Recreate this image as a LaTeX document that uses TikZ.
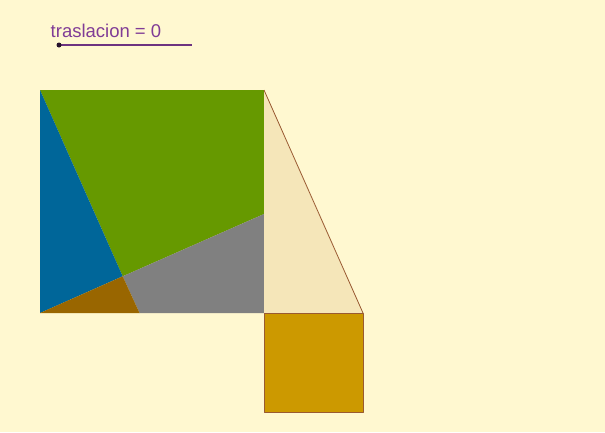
\documentclass[tikz,border=0pt]{standalone}
\usepackage{fontspec}
\setmainfont{Liberation Sans}
\definecolor{bg}{RGB}{255,248,208}
\definecolor{pblue}{RGB}{0,102,153}
\definecolor{pgreen}{RGB}{102,153,0}
\definecolor{pgray}{RGB}{128,128,128}
\definecolor{pbrown}{RGB}{153,102,0}
\definecolor{pbeige}{RGB}{245,230,185}
\definecolor{pgold}{RGB}{204,153,0}
\definecolor{edge}{RGB}{153,90,50}
\definecolor{slider}{RGB}{128,60,150}
\tikzset{
  piece/.style={line width=0.3pt, line join=round},
  outlined/.style={draw=edge, line width=1pt, line join=round},
}
\begin{document}
\begin{tikzpicture}[x=1pt,y=-1pt]
\fill[bg] (0,0) rectangle (605,432);
\useasboundingbox (0,0) rectangle (605,432);
% slider
\node[anchor=base west, inner sep=0pt, text=slider, font=\fontsize{18.5}{20}\selectfont] (lbl) at (50.5,37) {traslacion = 0};
\coordinate (s0) at (59,45);
\coordinate (s1) at (192,45);
\draw[slider!85!black, line width=2pt] (s0) -- (s1);
\fill[black!70!slider] (s0) circle (2.5);
% big square vertices
\coordinate (TL) at (40,90);
\coordinate (TR) at (264,90);
\coordinate (BR) at (264,313);
\coordinate (BL) at (40,313);
\coordinate (P) at (122.7,276.3);
\coordinate (Q) at (264,214);
\coordinate (R) at (139.5,313);
% pieces
\fill[pgreen, piece] (TL) -- (TR) -- (Q) -- (P) -- cycle;
\fill[pblue, piece] (TL) -- (P) -- (BL) -- cycle;
\fill[pgray, piece] (P) -- (Q) -- (BR) -- (R) -- cycle;
\fill[pbrown, piece] (P) -- (R) -- (BL) -- cycle;
% triangle
\coordinate (T3) at (363,313);
\fill[pbeige] (TR) -- (BR) -- (T3) -- cycle;
\draw[edge, line width=0.8pt] (TR) -- (T3);
% small square
\coordinate (S2) at (363,412);
\coordinate (S3) at (264,412);
\filldraw[fill=pgold, outlined] (BR) -- (T3) -- (S2) -- (S3) -- cycle;
\end{tikzpicture}
\end{document}
